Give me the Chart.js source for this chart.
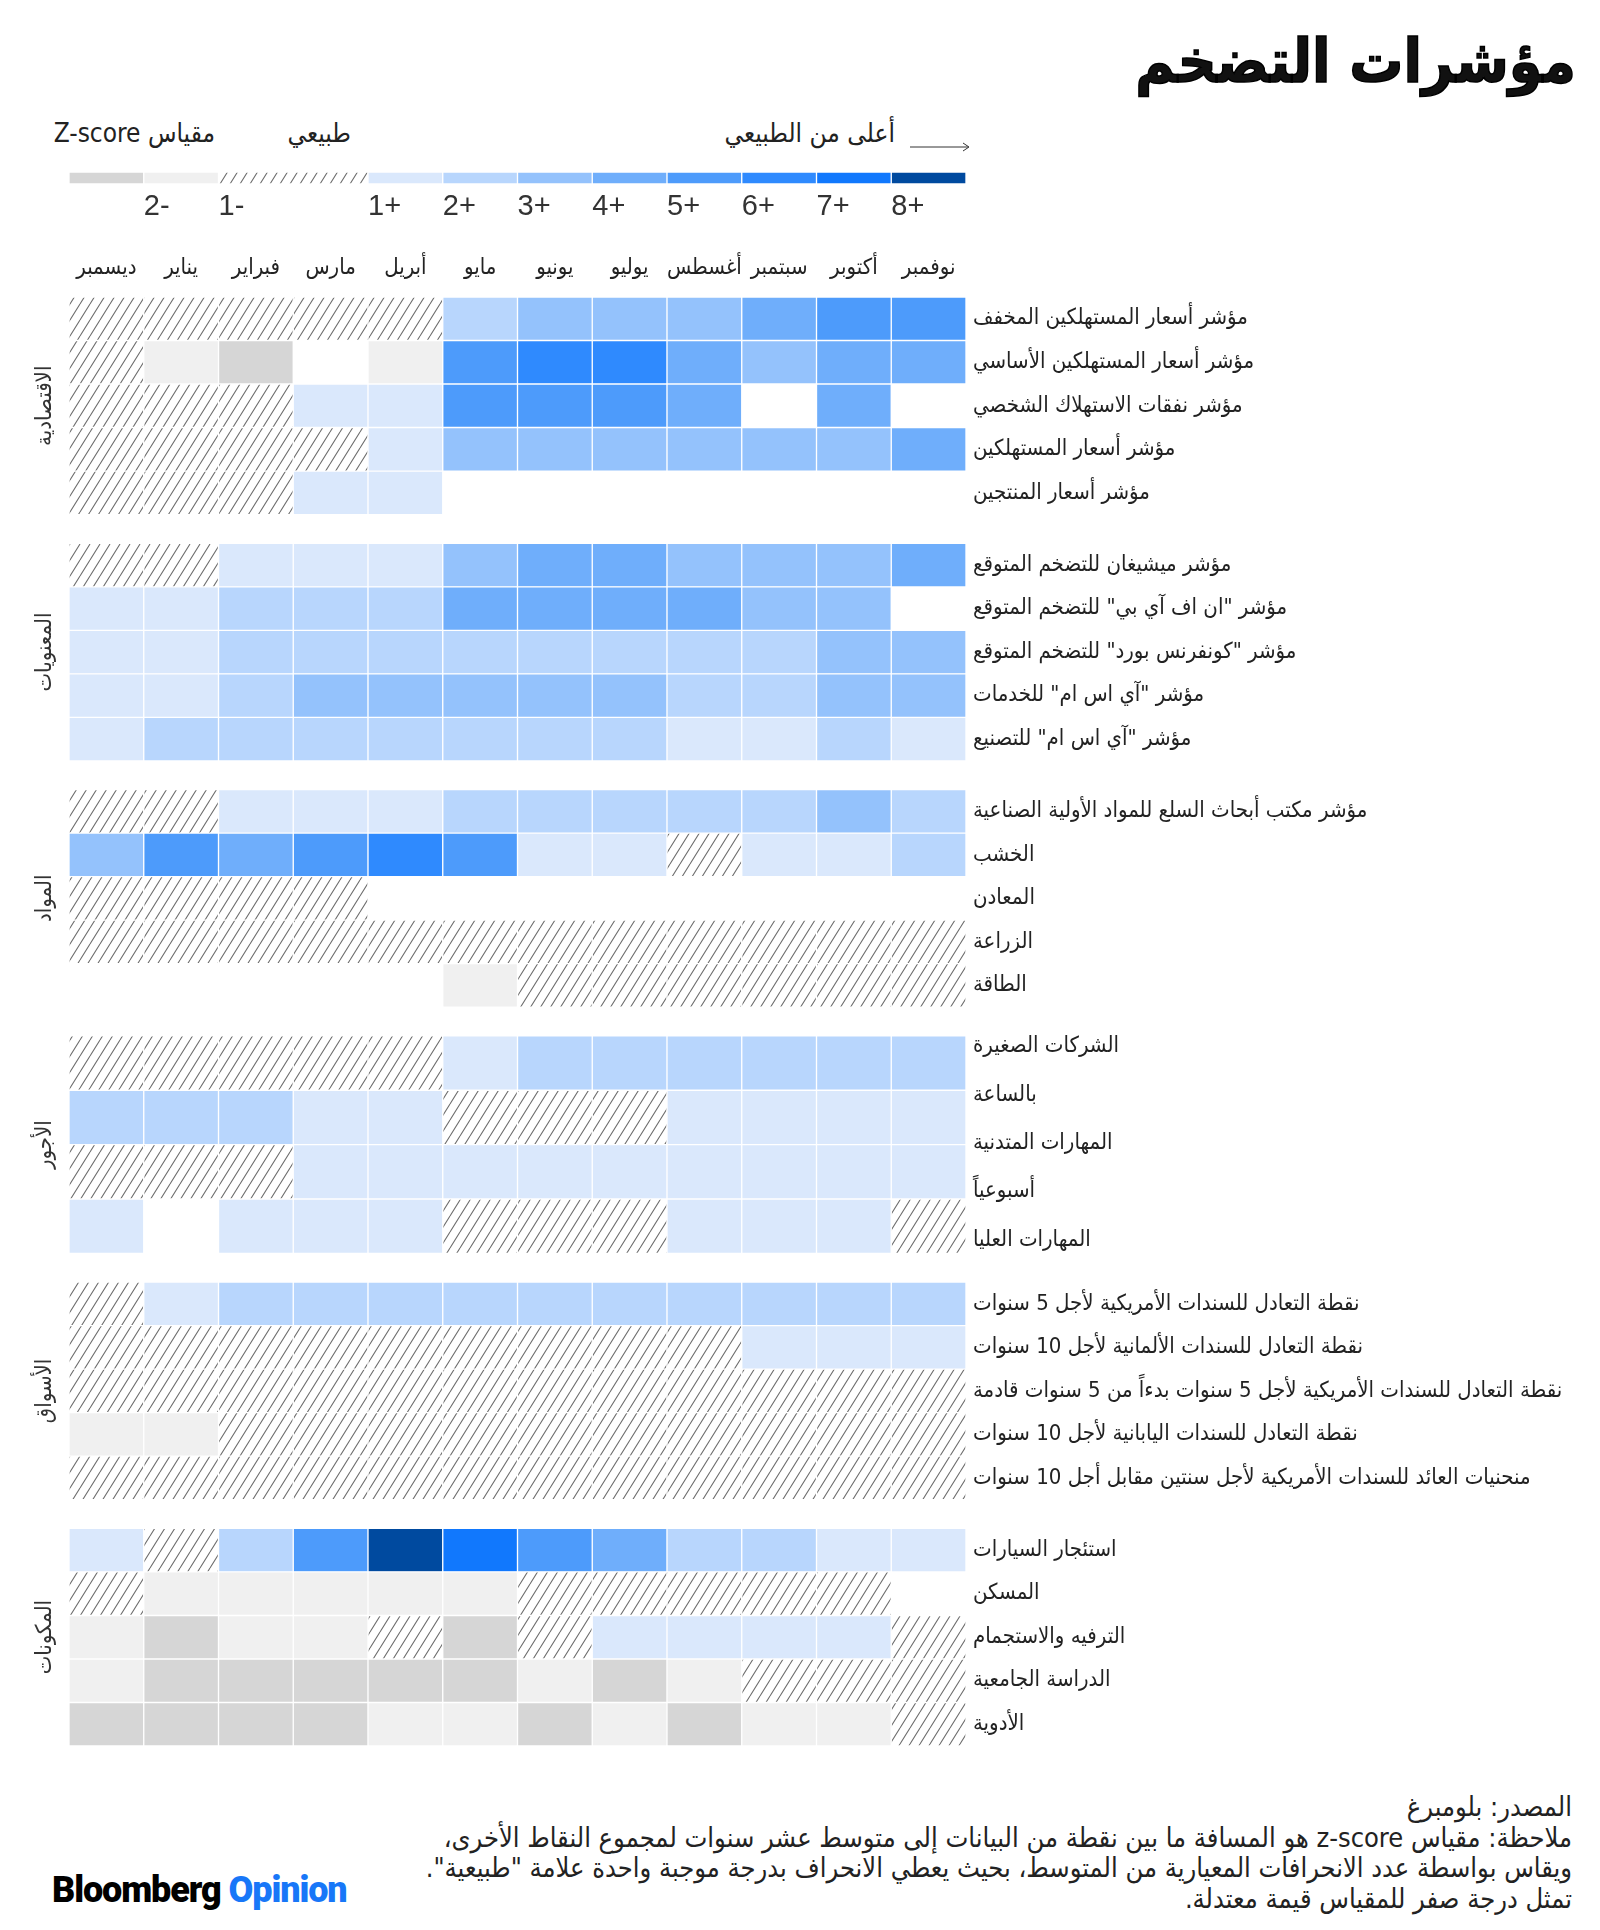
<!DOCTYPE html>
<html lang="ar">
<head>
<meta charset="utf-8">
<title>مؤشرات التضخم</title>
<script src="https://cdn.jsdelivr.net/npm/chart.js@4"></script>
<style>
  body { margin: 0; width: 1600px; height: 1930px; background: #fff; position: relative; overflow: hidden;
         font-family: "DejaVu Sans Condensed", "DejaVu Sans", sans-serif; color: #111; }
  .abs { position: absolute; }
  #title { right: 24px; top: 26px; font-size: 60px; font-weight: bold; direction: rtl; letter-spacing: -1px;
           -webkit-text-stroke: 1.5px #000; }
  .lgtxt { top: 118px; font-size: 26px; direction: rtl; text-align: right; white-space: nowrap; color: #222; }
  #footer { right: 28px; top: 1792px; font-size: 27px; line-height: 30.5px; direction: rtl; text-align: right; color: #222; }
  #logo { left: 52px; top: 1869px; font-family: Roboto, "Liberation Sans", sans-serif; font-weight: 900;
          font-size: 36px; letter-spacing: -1.1px; color: #000; }
  #logo span { color: #1877f8; }
</style>
</head>
<body>
<div id="title" class="abs">مؤشرات التضخم</div>

<div class="abs lgtxt" style="left:0; width:215px;">مقياس Z-score</div>
<div class="abs lgtxt" style="left:200px; width:151px;">طبيعي</div>
<div class="abs lgtxt" style="left:560px; width:335px;">أعلى من الطبيعي</div>
<svg class="abs" style="left:908px; top:140px;" width="64" height="14">
  <line x1="2" y1="7" x2="60" y2="7" stroke="#333" stroke-width="1"/>
  <path d="M55 3 L61 7 L55 11" fill="none" stroke="#333" stroke-width="1"/>
</svg>

<canvas id="legend" class="abs" style="left:0; top:168px;" width="1600" height="60"></canvas>
<canvas id="heat" class="abs" dir="rtl" style="left:0; top:240px;" width="1600" height="1524"></canvas>

<div id="footer" class="abs">
  <div>المصدر: بلومبرغ</div>
  <div>ملاحظة: مقياس z-score هو المسافة ما بين نقطة من البيانات إلى متوسط عشر سنوات لمجموع النقاط الأخرى،</div>
  <div>ويقاس بواسطة عدد الانحرافات المعيارية من المتوسط، بحيث يعطي الانحراف بدرجة موجبة واحدة علامة "طبيعية".</div>
  <div>تمثل درجة صفر للمقياس قيمة معتدلة.</div>
</div>
<div id="logo" class="abs">Bloomberg <span>Opinion</span></div>

<script>
// months, left to right
const months = ['ديسمبر', 'يناير', 'فبراير', 'مارس', 'أبريل', 'مايو', 'يونيو', 'يوليو', 'أغسطس', 'سبتمبر', 'أكتوبر', 'نوفمبر'];

// cell codes: 'h' = normal (hatched), null = no data, -2/-1 = below, 1..8 = above normal
const h = 'h';

const economyLabels = ['مؤشر أسعار المستهلكين المخفف', 'مؤشر أسعار المستهلكين الأساسي', 'مؤشر نفقات الاستهلاك الشخصي', 'مؤشر أسعار المستهلكين', 'مؤشر أسعار المنتجين'];
const economyRows = [
  [h, h, h, h, h, 2, 3, 3, 3, 4, 5, 5],
  [h, -1, -2, null, -1, 5, 6, 6, 4, 3, 4, 4],
  [h, h, h, 1, 1, 5, 5, 5, 4, null, 4, null],
  [h, h, h, h, 1, 3, 3, 3, 3, 3, 3, 4],
  [h, h, h, 1, 1, null, null, null, null, null, null, null],
];

const sentimentLabels = ['مؤشر ميشيغان للتضخم المتوقع', 'مؤشر "ان اف آي بي" للتضخم المتوقع', 'مؤشر "كونفرنس بورد" للتضخم المتوقع', 'مؤشر "آي اس ام" للخدمات', 'مؤشر "آي اس ام" للتصنيع'];
const sentimentRows = [
  [h, h, 1, 1, 1, 3, 4, 4, 3, 3, 3, 4],
  [1, 1, 2, 2, 2, 4, 4, 4, 4, 3, 3, null],
  [1, 1, 2, 2, 2, 2, 2, 2, 2, 2, 3, 3],
  [1, 1, 2, 3, 3, 3, 3, 3, 2, 2, 3, 3],
  [1, 2, 2, 2, 2, 2, 2, 2, 1, 1, 2, 1],
];

const materialsLabels = ['مؤشر مكتب أبحاث السلع للمواد الأولية الصناعية', 'الخشب', 'المعادن', 'الزراعة', 'الطاقة'];
const materialsRows = [
  [h, h, 1, 1, 1, 2, 2, 2, 2, 2, 3, 2],
  [3, 5, 4, 5, 6, 5, 1, 1, h, 1, 1, 2],
  [h, h, h, h, null, null, null, null, null, null, null, null],
  [h, h, h, h, h, h, h, h, h, h, h, h],
  [null, null, null, null, null, -1, h, h, h, h, h, h],
];

// wages: 4 rows of cells, 5 text labels spread over the block
const wagesLabels = ['الشركات الصغيرة', 'بالساعة', 'المهارات المتدنية', 'أسبوعياً', 'المهارات العليا'];
const wagesLabelPos = [0.25, 1.36, 2.47, 3.58, 4.69];
const wagesRows = [
  [h, h, h, h, h, 1, 2, 2, 2, 2, 2, 2],
  [2, 2, 2, 1, 1, h, h, h, 1, 1, 1, 1],
  [h, h, h, 1, 1, 1, 1, 1, 1, 1, 1, 1],
  [1, null, 1, 1, 1, h, h, h, 1, 1, 1, h],
];

const marketsLabels = ['نقطة التعادل للسندات الأمريكية لأجل 5 سنوات', 'نقطة التعادل للسندات الألمانية لأجل 10 سنوات', 'نقطة التعادل للسندات الأمريكية لأجل 5 سنوات بدءاً من 5 سنوات قادمة', 'نقطة التعادل للسندات اليابانية لأجل 10 سنوات', 'منحنيات العائد للسندات الأمريكية لأجل سنتين مقابل أجل 10 سنوات'];
const marketsRows = [
  [h, 1, 2, 2, 2, 2, 2, 2, 2, 2, 2, 2],
  [h, h, h, h, h, h, h, h, h, 1, 1, 1],
  [h, h, h, h, h, h, h, h, h, h, h, h],
  [-1, -1, h, h, h, h, h, h, h, h, h, h],
  [h, h, h, h, h, h, h, h, h, h, h, h],
];

const componentsLabels = ['استئجار السيارات', 'المسكن', 'الترفيه والاستجمام', 'الدراسة الجامعية', 'الأدوية'];
const componentsRows = [
  [1, h, 2, 5, 8, 7, 5, 4, 2, 2, 1, 1],
  [h, -1, -1, -1, -1, -1, h, h, h, h, h, null],
  [-1, -2, -1, -1, h, -2, h, 1, 1, 1, 1, h],
  [-1, -2, -2, -2, -2, -2, -1, -2, -1, h, h, h],
  [-2, -2, -2, -2, -1, -1, -2, -1, -2, -1, -1, h],
];

const groupNames = ['الاقتصادية', 'المعنويات', 'المواد', 'الأجور', 'الأسواق', 'المكونات'];

// legend scale
const legendLevels = [-2, -1, h, 1, 2, 3, 4, 5, 6, 7, 8];
const legendSpans = [1, 1, 2, 1, 1, 1, 1, 1, 1, 1, 1];
const legendTickAt = [1, 2, 4, 5, 6, 7, 8, 9, 10, 11];
const legendTickLabels = ['2-', '1-', '1+', '2+', '3+', '4+', '5+', '6+', '7+', '8+'];

const palette = {
  '-2': '#d6d6d6', '-1': '#f0f0f0',
  1: '#dae8fc', 2: '#b8d6fd', 3: '#94c2fc', 4: '#6faefb',
  5: '#4d9bfb', 6: '#2f8afe', 7: '#1178fd', 8: '#004a9f',
};

const AR = '"DejaVu Sans Condensed", "DejaVu Sans", sans-serif';
Chart.defaults.font.family = AR;
Chart.defaults.color = '#222';

// hatch pattern
const makeHatch = () => {
  const c = document.createElement('canvas');
  c.width = 10; c.height = 16;
  const g = c.getContext('2d');
  g.strokeStyle = '#6e6e6e';
  g.lineWidth = 1.1;
  g.beginPath();
  [-10, 0, 10].forEach((dx) => { g.moveTo(dx, 16); g.lineTo(dx + 10, 0); });
  g.stroke();
  return g.createPattern(c, 'repeat');
};
const hatch = makeHatch();
const colorFor = (v) => (v === h ? hatch : palette[v]);

// layout of the blocks in row units
const groups = [
  { name: groupNames[0], labels: economyLabels, rows: economyRows },
  { name: groupNames[1], labels: sentimentLabels, rows: sentimentRows },
  { name: groupNames[2], labels: materialsLabels, rows: materialsRows },
  { name: groupNames[3], labels: wagesLabels, rows: wagesRows, labelPos: wagesLabelPos },
  { name: groupNames[4], labels: marketsLabels, rows: marketsRows },
  { name: groupNames[5], labels: componentsLabels, rows: componentsRows },
];
const BLOCK = 5;
const GAP = 0.66;
const TOTAL = groups.length * BLOCK + (groups.length - 1) * GAP;
const GRID_PX = 1449; // height of the grid area in pixels
const pxPerUnit = GRID_PX / TOTAL;

const yTicks = [];
const datasets = [];
groups.forEach((grp, gi) => {
  grp.start = gi * (BLOCK + GAP);
  const rowH = BLOCK / grp.rows.length;
  const data = [];
  const colors = [];
  grp.rows.forEach((row, ri) => {
    const center = grp.start + (ri + 0.5) * rowH;
    row.forEach((v, ci) => {
      if (v === null) return;
      data.push({ x: [ci, ci + 1], y: center });
      colors.push(colorFor(v));
    });
  });
  grp.labels.forEach((lab, li) => {
    const pos = grp.labelPos ? grp.start + grp.labelPos[li] : grp.start + (li + 0.5) * rowH;
    yTicks.push({ value: pos, label: lab });
  });
  datasets.push({
    label: grp.name,
    data,
    backgroundColor: colors,
    borderColor: '#ffffff',
    borderWidth: 1,
    borderSkipped: false,
    barThickness: rowH * pxPerUnit,
    grouped: false,
  });
});

const groupLabelPlugin = {
  id: 'groupLabels',
  afterDraw(chart) {
    const { ctx } = chart;
    const y = chart.scales.y;
    ctx.save();
    ctx.font = '22px ' + AR;
    ctx.fillStyle = '#333';
    ctx.textAlign = 'center';
    ctx.textBaseline = 'middle';
    groups.forEach((grp) => {
      const yy = y.getPixelForValue(grp.start + BLOCK / 2);
      ctx.save();
      ctx.translate(45, yy);
      ctx.rotate(-Math.PI / 2);
      ctx.fillText(grp.name, 0, 0);
      ctx.restore();
    });
    ctx.restore();
  },
};

const noPad = (s) => { s.paddingTop = 0; s.paddingBottom = 0; s.paddingLeft = 0; s.paddingRight = 0; };

new Chart(document.getElementById('heat'), {
  type: 'bar',
  data: { datasets },
  options: {
    indexAxis: 'y',
    responsive: false,
    animation: false,
    devicePixelRatio: 1,
    layout: { padding: { left: 69, right: 0, top: 0, bottom: 18 } },
    plugins: { legend: { display: false }, tooltip: { enabled: false } },
    scales: {
      x: {
        type: 'linear',
        position: 'top',
        min: 0,
        max: 12,
        offset: false,
        grid: { display: false, drawTicks: false },
        border: { display: false },
        afterBuildTicks: (s) => { s.ticks = months.map((m, i) => ({ value: i + 0.5 })); },
        afterFit: (s) => { s.height = 57; noPad(s); },
        ticks: {
          autoSkip: false,
          maxRotation: 0,
          minRotation: 0,
          padding: 16,
          font: { size: 22 },
          color: '#222',
          callback: (v, i) => months[i],
        },
      },
      y: {
        type: 'linear',
        position: 'right',
        reverse: true,
        min: 0,
        max: TOTAL,
        offset: false,
        grid: { display: false, drawTicks: false },
        border: { display: false },
        afterBuildTicks: (s) => { s.ticks = yTicks.map((t) => ({ value: t.value })); },
        afterFit: (s) => { s.width = 634; noPad(s); },
        ticks: {
          autoSkip: false,
          padding: 7,
          font: { size: 22 },
          color: '#222',
          callback: (v, i) => yTicks[i].label,
        },
      },
    },
  },
  plugins: [groupLabelPlugin],
});

// legend bar
let acc = 0;
const legendData = legendLevels.map((lv, i) => {
  const d = { x: [acc, acc + legendSpans[i]], y: 0 };
  acc += legendSpans[i];
  return d;
});

new Chart(document.getElementById('legend'), {
  type: 'bar',
  data: {
    labels: ['scale'],
    datasets: [{
      data: legendData,
      backgroundColor: legendLevels.map(colorFor),
      borderColor: '#ffffff',
      borderWidth: 1,
      borderSkipped: false,
      barThickness: 12,
    }],
  },
  options: {
    indexAxis: 'y',
    responsive: false,
    animation: false,
    devicePixelRatio: 1,
    layout: { padding: { left: 69, right: 634, top: 0, bottom: 0 } },
    plugins: { legend: { display: false }, tooltip: { enabled: false } },
    scales: {
      y: { type: 'category', display: false },
      x: {
        type: 'linear',
        position: 'bottom',
        min: 0,
        max: 12,
        grid: { display: false, drawTicks: false },
        border: { display: false },
        afterBuildTicks: (s) => { s.ticks = legendTickAt.map((v) => ({ value: v })); },
        afterFit: (s) => { s.height = 40; noPad(s); },
        ticks: {
          autoSkip: false,
          maxRotation: 0,
          minRotation: 0,
          align: 'start',
          padding: 2,
          font: { size: 29, family: '"Liberation Sans", Arial, sans-serif', weight: 300 },
          color: '#333',
          callback: (v, i) => legendTickLabels[i],
        },
      },
    },
  },
});
</script>
</body>
</html>
